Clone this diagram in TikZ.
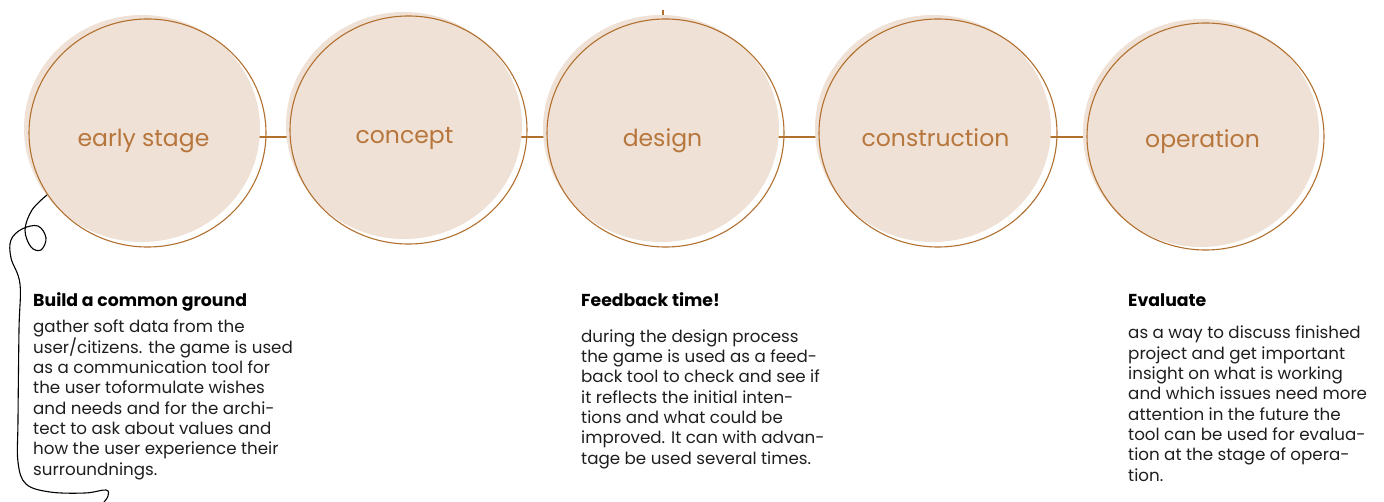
\documentclass[tikz,border=0pt]{standalone}
\usepackage{fontspec}
\setmainfont{Poppins}
\usetikzlibrary{shapes.geometric}
\definecolor{blush}{HTML}{F0E1D6}
\definecolor{rust}{HTML}{B2702F}
\definecolor{rusttext}{HTML}{B7773C}
\definecolor{bodyink}{HTML}{1E1E1E}
\tikzset{
  fillell/.style={ellipse, fill=blush, inner sep=0pt, minimum width=236pt, minimum height=227pt},
  ringell/.style={ellipse, draw=rust, line width=1.1pt, inner sep=0pt, minimum width=237pt, minimum height=228pt},
  stagelabel/.style={anchor=base, text=rusttext, font=\fontsize{23.5}{28}\selectfont, inner sep=0pt},
  link/.style={draw=rust, line width=1.3pt},
  heading/.style={anchor=base west, inner sep=0pt, font=\fontsize{17.3}{20}\selectfont\bfseries, text=black},
  bodytext/.style={anchor=base west, inner sep=0pt, align=left, font=\fontsize{16.7}{20.3}\selectfont, text=bodyink},
  squiggle/.style={draw=black, line width=1.1pt}
}
\begin{document}
\begin{tikzpicture}[x=1pt,y=-1pt]
\useasboundingbox (0,0) rectangle (1384,502);
% connector anchor points
\coordinate (c1) at (150,137);
\coordinate (c2) at (404,137);
\coordinate (c3) at (661,137);
\coordinate (c4) at (933,137);
\coordinate (c5) at (1201,137);
\draw[link] (c1) -- (c2) -- (c3) -- (c4) -- (c5);
\coordinate (t1) at (663,10);
\coordinate (t2) at (663,17);
\draw[link] (t1) -- (t2);
% filled discs
\node[fillell] (f1) at (142,128.5) {};
\node[fillell] (f2) at (404,125.5) {};
\node[fillell] (f3) at (661,128.5) {};
\node[fillell] (f4) at (933,128.5) {};
\node[fillell, minimum height=228pt] (f5) at (1201,133) {};
% outline rings
\node[ringell] (o1) at (147.5,133) {};
\node[ringell] (o2) at (408.5,130) {};
\node[ringell] (o3) at (665.5,133) {};
\node[ringell, minimum width=238pt] (o4) at (938,133) {};
\node[ringell, minimum height=227pt] (o5) at (1205.5,136.5) {};
% labels
\node[stagelabel] (l1) at (143.5,147) {early stage};
\node[stagelabel] (l2) at (404.5,144) {concept};
\node[stagelabel] (l3) at (662.5,147) {design};
\node[stagelabel] (l4) at (935.5,147) {construction};
\node[stagelabel] (l5) at (1202.5,148) {operation};
% squiggle
\draw[squiggle] plot[smooth, tension=0.6] coordinates {(47,195) (32,210) (25,230) (31,247) (41,250) (46,238) (38,226) (22,229) (11,240) (11,258) (20,284) (19,330) (18,420) (18,462) (26,484) (50,492) (85,493) (106,490) (108,496) (104,502)};
% texts (body nodes are anchored at the baseline of their last line)
\node[heading] (h1) at (33,307) {Build a common ground};
\node[bodytext] (b1) at (33,475) {gather soft data from the\\user/citizens. the game is used\\as a communication tool for\\the user toformulate wishes\\and needs and for the archi-\\tect to ask about values and\\how the user experience their\\surroundnings.};
\node[heading] (h2) at (581,307) {Feedback time!};
\node[bodytext] (b2) at (581,464) {during the design process\\the game is used as a feed-\\back tool to check and see if\\it reflects the initial inten-\\tions and what could be\\improved. It can with advan-\\tage be used several times.};
\node[heading] (h3) at (1128,307) {Evaluate};
\node[bodytext] (b3) at (1128,481) {as a way to discuss finished\\project and get important\\insight on what is working\\and which issues need more\\attention in the future the\\tool can be used for evalua-\\tion at the stage of opera-\\tion.};
\end{tikzpicture}
\end{document}
